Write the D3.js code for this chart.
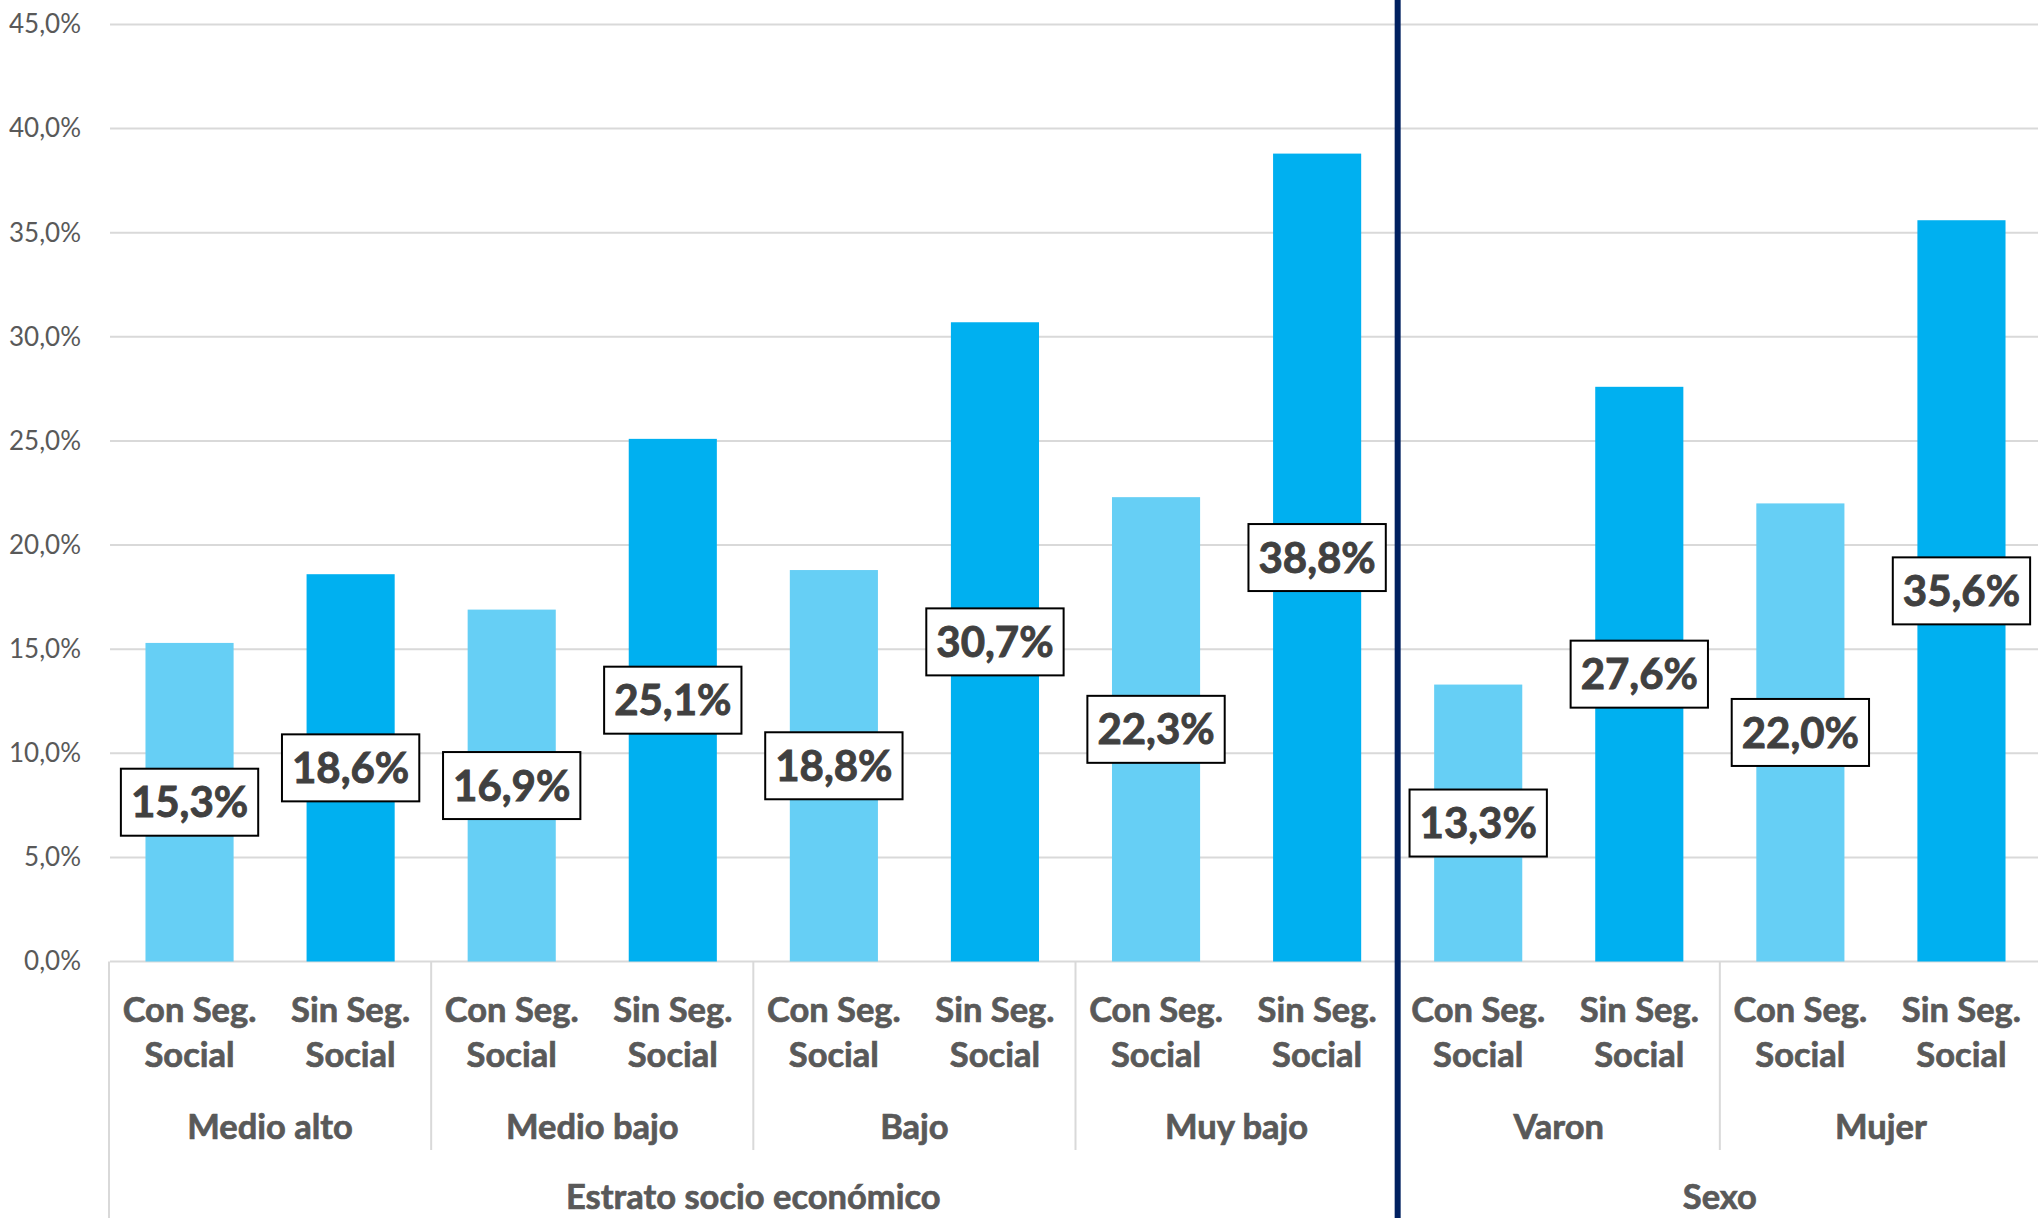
<!DOCTYPE html>
<html>
<head>
<meta charset="utf-8">
<script src="https://cdn.jsdelivr.net/npm/d3@7"></script>
<style>
  html, body { margin: 0; padding: 0; background: #fff; }
  svg { display: block; }
</style>
</head>
<body>
<svg id="chart" width="2038" height="1218"></svg>
<script>
// ---- Data ----
const groups = ["Medio alto", "Medio bajo", "Bajo", "Muy bajo", "Varon", "Mujer"];
const superGroups = ["Estrato socio económico", "Sexo"];
const superGroupOfGroup = [0, 0, 0, 0, 1, 1];
const subLabels = ["Con Seg.|Social", "Sin Seg.|Social"];
const conSegValues = [15.3, 16.9, 18.8, 22.3, 13.3, 22.0];
const sinSegValues = [18.6, 25.1, 30.7, 38.8, 27.6, 35.6];
const yTicks = [0, 5, 10, 15, 20, 25, 30, 35, 40, 45];

(function () {
// ---- Build flat category table ----
const rows = [];
groups.forEach((g, gi) => {
  rows.push({ key: g + "-con", group: gi, sub: 0, value: conSegValues[gi] });
  rows.push({ key: g + "-sin", group: gi, sub: 1, value: sinSegValues[gi] });
});

const W = 2038, H = 1218;
const pLeft = 109, pRight = 2042, pTop = 24.5, pBottom = 961.5;

const svg = d3.select("#chart");

const x = d3.scaleBand()
  .domain(rows.map(d => d.key))
  .range([pLeft, pRight])
  .paddingInner(0.453)
  .paddingOuter(0.2265);
const step = x.step();
const y = d3.scaleLinear().domain([0, 45]).range([pBottom, pTop]);

const textGray = "#595959";
const fontFam = "Lato, 'Open Sans', sans-serif";
const fmt = v => d3.format(".1f")(v).replace(".", ",") + "%";

// y axis labels
const yAxis = d3.axisLeft(y).tickValues(yTicks).tickFormat(fmt).tickSize(0).tickPadding(28);
const gAxis = svg.append("g").attr("transform", `translate(${pLeft},0)`).call(yAxis);
gAxis.select(".domain").remove();
gAxis.selectAll("text")
  .attr("font-family", fontFam).attr("font-size", 26).attr("fill", textGray);

// gridlines
svg.append("g").selectAll("line").data(yTicks).join("line")
  .attr("x1", pLeft + 1).attr("x2", W)
  .attr("y1", d => y(d)).attr("y2", d => y(d))
  .attr("stroke", "#d9d9d9").attr("stroke-width", 2);

// bars
const colors = ["#66cff5", "#00b0f0"];
svg.append("g").selectAll("rect").data(rows).join("rect")
  .attr("x", d => x(d.key))
  .attr("width", x.bandwidth())
  .attr("y", d => y(d.value))
  .attr("height", d => y(0) - y(d.value))
  .attr("fill", d => colors[d.sub]);

// category axis separators
const boundaryX = i => pLeft + i * step;
const sep = svg.append("g").attr("stroke", "#d9d9d9").attr("stroke-width", 2);
sep.append("line").attr("x1", boundaryX(0)).attr("x2", boundaryX(0)).attr("y1", pBottom).attr("y2", H);
groups.forEach((g, gi) => {
  if (gi === 0) return;
  const bx = boundaryX(gi * 2);
  const full = superGroupOfGroup[gi] !== superGroupOfGroup[gi - 1];
  sep.append("line").attr("x1", bx).attr("x2", bx).attr("y1", pBottom).attr("y2", full ? H : 1150);
});

// category labels
const catG = svg.append("g").attr("font-family", fontFam).attr("font-weight", 700)
  .attr("font-size", 34.5).attr("fill", textGray).attr("text-anchor", "middle")
  .attr("stroke", textGray).attr("stroke-width", 0.7);
rows.forEach(d => {
  const cx = x(d.key) + x.bandwidth() / 2;
  const parts = subLabels[d.sub].split("|");
  catG.append("text").attr("x", cx).attr("y", 1010).attr("dy", "0.35em").text(parts[0]);
  catG.append("text").attr("x", cx).attr("y", 1055).attr("dy", "0.35em").text(parts[1]);
});
groups.forEach((g, gi) => {
  const cx = (boundaryX(gi * 2) + boundaryX(gi * 2 + 2)) / 2;
  catG.append("text").attr("x", cx).attr("y", 1127).attr("dy", "0.35em").text(g);
});
superGroups.forEach((s, si) => {
  const idx = superGroupOfGroup.map((v, i) => v === si ? i : -1).filter(i => i >= 0);
  const x0 = boundaryX(idx[0] * 2), x1 = boundaryX((idx[idx.length - 1] + 1) * 2);
  catG.append("text").attr("x", (x0 + x1) / 2).attr("y", 1197).attr("dy", "0.35em").text(s);
});

// data labels
const lab = svg.append("g");
rows.forEach(d => {
  const cx = x(d.key) + x.bandwidth() / 2;
  const cy = (y(d.value) + y(0)) / 2;
  const g = lab.append("g");
  const rect = g.append("rect");
  const t = g.append("text")
    .attr("x", cx).attr("y", cy).attr("dy", "0.36em")
    .attr("text-anchor", "middle")
    .attr("font-family", fontFam).attr("font-weight", 700).attr("font-size", 42)
    .attr("fill", "#404040").attr("stroke", "#404040").attr("stroke-width", 0.9)
    .text(fmt(d.value));
  const w = t.node().getComputedTextLength() + 20;
  const h = 67;
  rect.attr("x", cx - w / 2).attr("y", cy - h / 2).attr("width", w).attr("height", h)
    .attr("fill", "#fff").attr("stroke", "#000").attr("stroke-width", 2);
});

// divider line between super groups
superGroups.forEach((s, si) => {
  if (si === 0) return;
  const gi = superGroupOfGroup.indexOf(si);
  const bx = boundaryX(gi * 2);
  svg.append("line").attr("x1", bx).attr("x2", bx).attr("y1", 0).attr("y2", H)
    .attr("stroke", "#002060").attr("stroke-width", 6);
});
})();
</script>
</body>
</html>
